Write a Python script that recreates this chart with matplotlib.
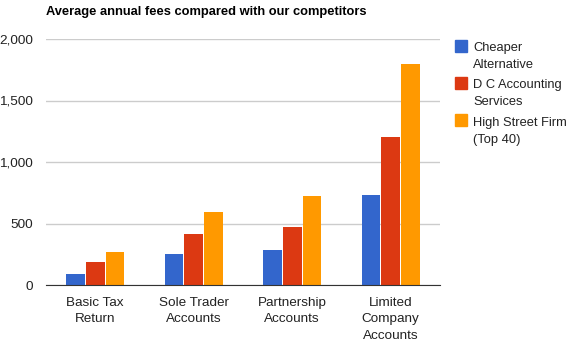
import numpy as np
import matplotlib.pyplot as plt
from matplotlib.patches import Rectangle

plt.rcParams['font.family'] = ['Liberation Sans', 'DejaVu Sans']

categories = ['Basic Tax\nReturn', 'Sole Trader\nAccounts', 'Partnership\nAccounts', 'Limited\nCompany\nAccounts']
series_names = ['Cheaper\nAlternative', 'D C Accounting\nServices', 'High Street Firm\n(Top 40)']
cheaper = [90, 250, 285, 735]
dc_accounting = [190, 415, 475, 1200]
high_street = [270, 590, 720, 1800]
colors = ['#3366cc', '#dc3912', '#ff9900']

W, H = 569, 344
fig = plt.figure(figsize=(W / 100, H / 100), dpi=100)
ax = fig.add_axes([46 / W, 1 - 285 / H, 394 / W, 246 / H])

x = np.arange(len(categories))
width = 0.2
for i, (vals, name, col) in enumerate(zip([cheaper, dc_accounting, high_street], series_names, colors)):
    ax.bar(x + (i - 1) * width, vals, width * 0.95, color=col, label=name, zorder=3)

ax.set_xlim(-0.5, len(categories) - 0.5)
ax.set_ylim(0, 2000)
ax.set_yticks([0, 500, 1000, 1500, 2000])
ax.set_yticklabels(['0', '500', '1,000', '1,500', '2,000'])
ax.set_xticks(x)
ax.set_xticklabels(categories, linespacing=1.5)
ax.tick_params(length=0, labelsize=9.7, labelcolor='#222222')
ax.tick_params(axis='y', pad=9.4)
ax.tick_params(axis='x', pad=8.5)
ax.grid(axis='y', color='#cccccc', linewidth=1, zorder=0)
for s in ['top', 'right', 'left']:
    ax.spines[s].set_visible(False)
ax.spines['bottom'].set_color('#333333')
ax.spines['bottom'].set_zorder(4)

fig.text(46 / W, 1 - 12 / H, 'Average annual fees compared with our competitors',
         fontsize=9.3, fontweight='bold', va='center', ha='left')

# legend on the right, drawn by hand so the boxes and wrapped labels sit where wanted
for i, (name, col) in enumerate(zip(series_names, colors)):
    top = 39.5 + i * 37.3
    fig.patches.append(Rectangle((455 / W, 1 - (top + 12) / H), 12 / W, 12 / H,
                                 transform=fig.transFigure, color=col))
    fig.text(473 / W, 1 - (top + 2.5) / H, name, fontsize=9.3, color='#222222',
             va='top', ha='left', linespacing=1.55)

fig.savefig('out.png', dpi=100)
